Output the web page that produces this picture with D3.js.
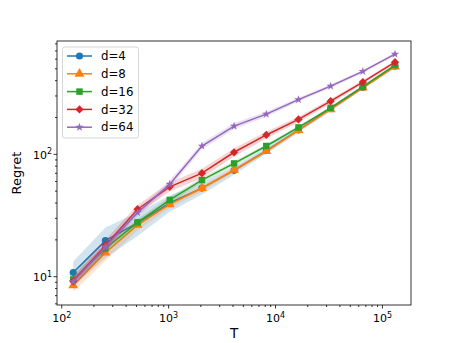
<!DOCTYPE html>
<html><head><meta charset="utf-8">
<script src="https://cdn.jsdelivr.net/npm/d3@7"></script>
<style>body{margin:0;background:#fff}svg{display:block;font-family:"DejaVu Sans",sans-serif}</style>
</head><body>
<svg id="c" width="457" height="343"></svg>
<script>
const T = [128,256,512,1024,2048,4096,8192,16384,32768,65536,131072];
const labels = ["d=4","d=8","d=16","d=32","d=64"];
const colors = ["#1f77b4","#ff7f0e","#2ca02c","#d62728","#9467bd"];
const mean_d4  = [10.8,19.7,27.5,40,53,74,107,158,236,352,525];
const mean_d8  = [8.5,15.7,26.5,39,52.8,74.5,106,158,233,350,520];
const mean_d16 = [9.5,17,27.8,42.4,61.6,84.3,117,166,240,357,537];
const mean_d32 = [9.2,18,35.6,54.3,70.2,104,144,193,272,390,567];
const mean_d64 = [9.1,17.5,33.4,57,117,170,213,280,361,476,659];
const std_d4  = [2.5,5.5,6,6,6,6,6,8,10,12,15];
const std_d8  = [1.0,2.2,2.5,2.5,3,3,4,5,6,8,10];
const std_d16 = [0.8,1.5,2,2.5,3,3.5,4,5,6,8,10];
const std_d32 = [1.0,2.0,3,4.5,6,8,9,10,12,14,17];
const std_d64 = [0.8,1.5,2,4,7,10,10,10,12,14,18];
const xTicks = [100,1000,10000,100000];
const xTickExp = ["2","3","4","5"];
const yTicks = [10,100];
const yTickExp = ["1","2"];

const means = [mean_d4,mean_d8,mean_d16,mean_d32,mean_d64];
const stds = [std_d4,std_d8,std_d16,std_d32,std_d64];
const symbols = [d3.symbolCircle,d3.symbolTriangle,d3.symbolSquare,d3.symbolSquare,d3.symbolStar];
const symSizes = [40,42,42,34,22];
const symRot = [0,0,0,45,0];

const L=57,R=411,Tp=41,B=305;
const x = d3.scaleLog().domain([90.3,185000]).range([L,R]);
const y = d3.scaleLog().domain([5.87,844]).range([B,Tp]);
const svg = d3.select("#c");

const plot = svg.append("g");
means.forEach((m,i)=>{
  const s = stds[i];
  const area = d3.area().x((d,j)=>x(T[j])).y0((d,j)=>y(m[j]-s[j])).y1((d,j)=>y(m[j]+s[j]));
  plot.append("path").attr("d",area(m)).attr("fill",colors[i]).attr("fill-opacity",0.2).attr("stroke","none");
  const line = d3.line().x((d,j)=>x(T[j])).y(d=>y(d));
  plot.append("path").attr("d",line(m)).attr("fill","none").attr("stroke",colors[i]).attr("stroke-width",1.5);
  plot.selectAll(null).data(m).enter().append("path")
    .attr("d",d3.symbol().type(symbols[i]).size(symSizes[i]))
    .attr("transform",(d,j)=>`translate(${x(T[j])},${y(d)}) rotate(${symRot[i]})`)
    .attr("fill",colors[i]);
});

// ticks
const ax = svg.append("g").attr("stroke","#000").attr("stroke-width",0.8);
const xMinor=[], yMinor=[];
for (let e=1;e<=5;e++) for (let k=2;k<=9;k++){const v=k*Math.pow(10,e); if(v>90.3&&v<185000) xMinor.push(v);}
for (let e=0;e<=2;e++) for (let k=2;k<=9;k++){const v=k*Math.pow(10,e); if(v>5.87&&v<844) yMinor.push(v);}
xMinor.forEach(v=>ax.append("line").attr("x1",x(v)).attr("x2",x(v)).attr("y1",B).attr("y2",B+2));
xTicks.forEach(v=>ax.append("line").attr("x1",x(v)).attr("x2",x(v)).attr("y1",B).attr("y2",B+3.5));
yMinor.forEach(v=>ax.append("line").attr("y1",y(v)).attr("y2",y(v)).attr("x1",L).attr("x2",L-2));
yTicks.forEach(v=>ax.append("line").attr("y1",y(v)).attr("y2",y(v)).attr("x1",L).attr("x2",L-3.5));
svg.append("rect").attr("x",L).attr("y",Tp).attr("width",R-L).attr("height",B-Tp).attr("fill","none").attr("stroke","#000").attr("stroke-width",0.8);

xTicks.forEach((v,i)=>{
  const t=svg.append("text").attr("x",x(v)).attr("y",B+17).attr("text-anchor","middle").attr("font-size",11);
  t.append("tspan").text("10");
  t.append("tspan").attr("dy",-4.5).attr("font-size",8).text(xTickExp[i]);
});
yTicks.forEach((v,i)=>{
  const t=svg.append("text").attr("x",L-5).attr("y",y(v)+4.5).attr("text-anchor","end").attr("font-size",11);
  t.append("tspan").text("10");
  t.append("tspan").attr("dy",-4.5).attr("font-size",8).text(yTickExp[i]);
});
svg.append("text").attr("x",(L+R)/2).attr("y",338).attr("text-anchor","middle").attr("font-size",13.5).text("T");
svg.append("text").attr("transform",`translate(21,${(Tp+B)/2}) rotate(-90)`).attr("text-anchor","middle").attr("font-size",13).text("Regret");

// legend
const lg = svg.append("g");
lg.append("rect").attr("x",62.5).attr("y",47).attr("width",76).attr("height",91).attr("rx",2.5)
  .attr("fill","#fff").attr("fill-opacity",0.8).attr("stroke","#ccc").attr("stroke-width",0.8);
labels.forEach((lab,i)=>{
  const yy = 56 + i*17.8;
  lg.append("line").attr("x1",67).attr("x2",92).attr("y1",yy).attr("y2",yy).attr("stroke",colors[i]).attr("stroke-width",1.5);
  lg.append("path").attr("d",d3.symbol().type(symbols[i]).size(symSizes[i])()).attr("transform",`translate(79.5,${yy}) rotate(${symRot[i]})`).attr("fill",colors[i]);
  lg.append("text").attr("x",101).attr("y",yy+4.2).attr("font-size",11.8).text(lab);
});
</script>
</body></html>
